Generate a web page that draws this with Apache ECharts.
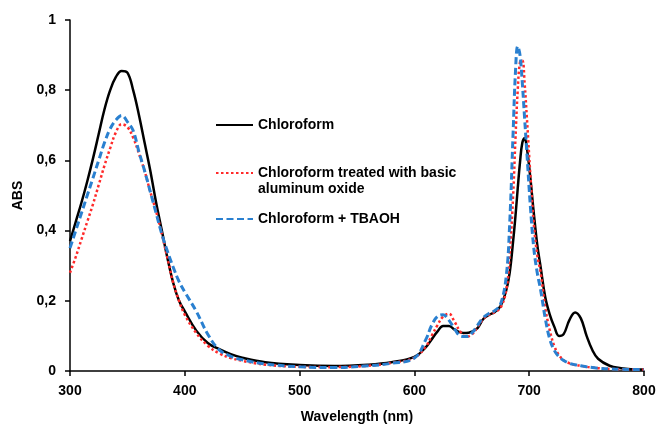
<!DOCTYPE html>
<html>
<head>
<meta charset="utf-8">
<script src="https://cdn.jsdelivr.net/npm/echarts@6/dist/echarts.min.js"></script>
<style>
html,body{margin:0;padding:0;background:#fff;}
#chart{width:658px;height:426px;}
</style>
</head>
<body>
<div id="chart"></div>
<script>
// Wavelength (nm)
var wavelengths = [300,305,310,315,320,325,330,335,340,345,350,355,360,365,370,375,380,385,390,395,400,410,420,430,440,450,470,500,530,560,580,600,610,615,620,625,630,635,640,645,650,655,660,665,670,675,680,683,686,688,690,692,694,696,698,701,704,707,710,714,718,722,726,730,735,740,745,750,755,760,770,780,790,800];

var chloroform = [0.37,0.425,0.48,0.54,0.605,0.675,0.745,0.80,0.838,0.855,0.85,0.80,0.73,0.65,0.57,0.48,0.40,0.32,0.25,0.20,0.17,0.115,0.08,0.062,0.048,0.038,0.025,0.017,0.014,0.018,0.025,0.04,0.068,0.09,0.112,0.128,0.128,0.118,0.11,0.108,0.112,0.122,0.148,0.16,0.168,0.185,0.23,0.28,0.37,0.44,0.52,0.595,0.65,0.663,0.635,0.55,0.45,0.36,0.295,0.21,0.16,0.125,0.1,0.105,0.145,0.167,0.15,0.1,0.06,0.035,0.015,0.008,0.005,0.004];

var aluminaTreated = [0.28,0.325,0.375,0.425,0.475,0.53,0.585,0.635,0.68,0.703,0.695,0.665,0.62,0.57,0.51,0.455,0.39,0.32,0.25,0.20,0.16,0.108,0.072,0.05,0.037,0.029,0.018,0.012,0.011,0.015,0.023,0.038,0.07,0.1,0.13,0.155,0.163,0.14,0.112,0.098,0.104,0.125,0.148,0.16,0.168,0.18,0.23,0.33,0.5,0.66,0.8,0.88,0.885,0.82,0.72,0.56,0.42,0.33,0.28,0.18,0.115,0.07,0.045,0.031,0.022,0.017,0.015,0.012,0.01,0.008,0.006,0.005,0.004,0.004];

var tbaoh = [0.35,0.40,0.45,0.50,0.55,0.60,0.65,0.69,0.715,0.728,0.71,0.685,0.625,0.57,0.51,0.45,0.39,0.34,0.295,0.255,0.225,0.17,0.105,0.06,0.042,0.032,0.02,0.012,0.01,0.015,0.022,0.037,0.09,0.13,0.155,0.16,0.145,0.12,0.1,0.098,0.108,0.13,0.152,0.164,0.172,0.19,0.27,0.42,0.68,0.85,0.925,0.9,0.82,0.72,0.62,0.47,0.35,0.28,0.23,0.15,0.09,0.058,0.04,0.03,0.022,0.018,0.015,0.012,0.01,0.008,0.006,0.005,0.004,0.004];

var seriesNames = ['Chloroform', 'Chloroform treated with basic\naluminum oxide', 'Chloroform + TBAOH'];
var xTicks = [300,400,500,600,700,800];
var yTicks = [0,0.2,0.4,0.6,0.8,1];

function pairs(vals){ return wavelengths.map(function(w,i){ return [w, vals[i]]; }); }

var font = '"Liberation Sans", Arial, sans-serif';
var chart = echarts.init(document.getElementById('chart'), null, {renderer:'canvas'});

function legendAt(name, top, leadBlank){
  return {
    data:[name], left:215, top:top, padding:0, itemWidth:37, itemHeight:14,
    selectedMode:false,
    itemStyle:{opacity:0, color:'rgba(0,0,0,0)', borderWidth:0},
    formatter: leadBlank ? function(n){ return '\n' + n; } : '{name}',
    textStyle:{fontFamily:font, fontWeight:'bold', fontSize:14, color:'#000', lineHeight:16}
  };
}

chart.setOption({
  animation:false,
  backgroundColor:'#fff',
  grid:{left:70, right:14, top:20, bottom:55, outerBoundsMode:'none', containLabel:false},
  legend:[
    legendAt(seriesNames[0], 117, false),
    legendAt(seriesNames[1], 149, true),
    legendAt(seriesNames[2], 211, false)
  ],
  xAxis:{
    type:'value', min:300, max:800, interval:100,
    name:'Wavelength (nm)', nameLocation:'middle', nameGap:39,
    nameTextStyle:{fontFamily:font, fontWeight:'bold', fontSize:14, color:'#000'},
    axisLine:{lineStyle:{color:'#000', width:1.5}},
    axisTick:{show:true, length:5, lineStyle:{color:'#000', width:1.5}},
    axisLabel:{margin:13, fontFamily:font, fontWeight:'bold', fontSize:14, color:'#000'},
    splitLine:{show:false}
  },
  yAxis:{
    type:'value', min:0, max:1, interval:0.2,
    name:'ABS', nameLocation:'middle', nameGap:40, nameRotate:90,
    nameTextStyle:{fontFamily:font, fontWeight:'bold', fontSize:14, color:'#000'},
    axisLine:{show:true, lineStyle:{color:'#000', width:1.5}},
    axisTick:{show:true, length:5, lineStyle:{color:'#000', width:1.5}},
    axisLabel:{margin:14, fontFamily:font, fontWeight:'bold', fontSize:14, color:'#000',
      formatter:function(v){ return String(Math.round(v*10)/10).replace('.', ','); }},
    splitLine:{show:false}
  },
  series:[
    {name:seriesNames[0], type:'line', data:pairs(chloroform), smooth:0.4, symbol:'none',
     lineStyle:{color:'#000', width:2.5}, itemStyle:{color:'#000'}},
    {name:seriesNames[1], type:'line', data:pairs(aluminaTreated), smooth:0.4, symbol:'none',
     lineStyle:{color:'#ff2a2a', width:2.5, type:[2.5,2.5]}, itemStyle:{color:'#ff2a2a'}},
    {name:seriesNames[2], type:'line', data:pairs(tbaoh), smooth:0.4, symbol:'none',
     lineStyle:{color:'#2a80d0', width:3, type:[7,3.5]}, itemStyle:{color:'#2a80d0'}}
  ]
});
</script>
</body>
</html>
